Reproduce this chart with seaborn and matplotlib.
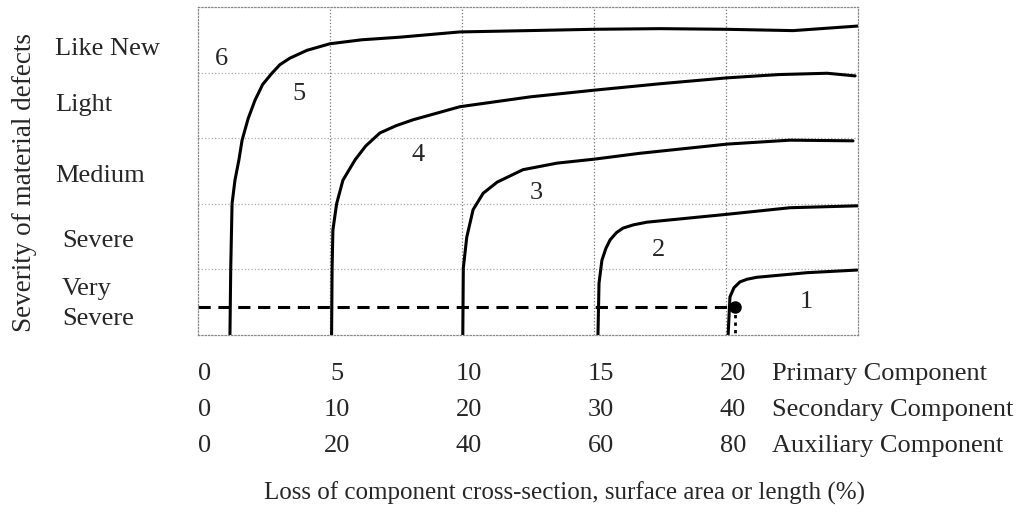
import matplotlib
matplotlib.use("Agg")
import numpy as np
import pandas as pd
import seaborn as sns
import matplotlib.pyplot as plt
from matplotlib.transforms import blended_transform_factory, ScaledTranslation

# ---------------- data ----------------
severity_levels = ["Very\nSevere", "Severe", "Medium", "Light", "Like New"]
primary_ticks = [0, 5, 10, 15, 20]
secondary_ticks = [0, 10, 20, 30, 40]
auxiliary_ticks = [0, 20, 40, 60, 80]
component_names = ["Primary Component", "Secondary Component", "Auxiliary Component"]

# boundary curves (x = loss for primary component, y = severity scale 0..5)
curve_65_x = [1.21, 1.24, 1.29, 1.40, 1.55, 1.67, 1.90, 2.16, 2.45, 2.80, 3.10, 3.48, 4.13, 5.00, 6.2, 7.65, 9.92, 12.5, 14.96, 17.5, 20.04, 22.54, 25.0]
curve_65_y = [0.00, 1.02, 2.00, 2.36, 2.67, 2.97, 3.30, 3.58, 3.82, 3.99, 4.12, 4.22, 4.34, 4.44, 4.50, 4.54, 4.62, 4.64, 4.66, 4.67, 4.66, 4.64, 4.71]

curve_54_x = [5.06, 5.08, 5.11, 5.25, 5.49, 5.95, 6.35, 6.89, 7.50, 8.14, 9.92, 12.58, 14.96, 17.5, 20.04, 22.0, 23.83, 24.89]
curve_54_y = [0.00, 1.02, 1.60, 2.00, 2.36, 2.67, 2.88, 3.08, 3.19, 3.28, 3.48, 3.63, 3.73, 3.83, 3.92, 3.97, 3.99, 3.95]

curve_43_x = [10.03, 10.05, 10.18, 10.42, 10.80, 11.33, 12.31, 13.60, 15.00, 16.74, 20.04, 22.42, 24.81]
curve_43_y = [0.00, 1.02, 1.49, 1.91, 2.16, 2.33, 2.52, 2.62, 2.68, 2.77, 2.91, 2.97, 2.96]

curve_32_x = [15.15, 15.19, 15.30, 15.45, 15.61, 15.85, 16.10, 16.50, 17.01, 20.04, 22.42, 25.04]
curve_32_y = [0.00, 0.79, 1.14, 1.32, 1.45, 1.56, 1.63, 1.68, 1.72, 1.84, 1.94, 1.97]

curve_21_x = [20.08, 20.15, 20.30, 20.53, 20.80, 21.17, 23.07, 24.96]
curve_21_y = [0.00, 0.58, 0.72, 0.81, 0.85, 0.88, 0.95, 0.99]

zone_labels = ["6", "5", "4", "3", "2", "1"]
zone_x = [0.87, 3.83, 8.33, 12.80, 17.46, 23.03]
zone_y = [4.21, 3.67, 2.74, 2.16, 1.30, 0.50]

threshold_x = 20.34
threshold_y = 0.43

# ---------------- layout ----------------
severity_label_y = [0.47, 1.43, 2.42, 3.51, 4.36]
row_y_fig = [1 - 374 / 513, 1 - 410 / 513, 1 - 446 / 513]

curves = {
    "6-5": (curve_65_x, curve_65_y),
    "5-4": (curve_54_x, curve_54_y),
    "4-3": (curve_43_x, curve_43_y),
    "3-2": (curve_32_x, curve_32_y),
    "2-1": (curve_21_x, curve_21_y),
}
df = pd.concat(
    [pd.DataFrame({"curve": k, "loss": v[0], "severity": v[1]}) for k, v in curves.items()],
    ignore_index=True,
)

sns.set_style("white")
plt.rcParams["font.family"] = ["Liberation Serif", "DejaVu Serif"]
FS = 19

fig = plt.figure(figsize=(10.2, 5.13), dpi=100)
ax = fig.add_axes([198 / 1020, 1 - 335 / 513, 660 / 1020, 328 / 513])

# grid
for xv in np.arange(5, 25, 5):
    ax.axvline(xv, color="#777777", lw=0.9, ls=":", zorder=0)
for yv in np.arange(1, 5, 1):
    ax.axhline(yv, color="#aaaaaa", lw=0.9, ls=":", zorder=0)
for s in ax.spines.values():
    s.set_linestyle(":")
    s.set_color("#888888")
    s.set_linewidth(0.9)

sns.lineplot(data=df, x="loss", y="severity", units="curve", estimator=None,
             sort=False, color="black", lw=2.2, ax=ax, legend=False)

# threshold dashed line and marker
ax.plot([0, threshold_x], [threshold_y, threshold_y], color="black", lw=2.2,
        dashes=(4, 2.5))
ax.plot([threshold_x, threshold_x], [threshold_y, 0], color="black", lw=2.0,
        ls=(0, (1.2, 1.5)))
ax.plot([threshold_x], [threshold_y], "o", color="black", ms=8)

ax.set_xlim(0, 25)
ax.set_ylim(0, 5)
ax.set_xticks(np.arange(0, 26, 5))
ax.set_yticks(np.arange(0, 6, 1))
ax.tick_params(length=0, labelbottom=False, labelleft=False)
ax.set_xlabel("")
ax.set_ylabel("")

for lab, x, y in zip(zone_labels, zone_x, zone_y):
    ax.text(x, y, lab, fontsize=FS, ha="center", va="center")

# severity labels
tr_y = blended_transform_factory(fig.transFigure, ax.transData)
for lab, y in zip(severity_levels, severity_label_y):
    xoff = 55 / 1020 if lab in ("Like New", "Light", "Medium") else 62 / 1020
    ax.text(xoff, y, lab, fontsize=FS, ha="left", va="center", transform=tr_y,
            linespacing=1.45)

# bottom rows of tick labels
tr_x = blended_transform_factory(ax.transData, fig.transFigure) + \
    ScaledTranslation(7 / 100, 0, fig.dpi_scale_trans)
for vals, name, yf in zip([primary_ticks, secondary_ticks, auxiliary_ticks],
                          component_names, row_y_fig):
    for p, v in zip(primary_ticks, vals):
        ax.text(p, yf, str(v), fontsize=FS, ha="center", va="center",
                transform=tr_x, clip_on=False)
    fig.text(772 / 1020, yf, name, fontsize=FS, ha="left", va="center")

fig.text(25 / 1020, 1 - 182 / 513, "Severity of material defects", fontsize=19.5,
         rotation=90, ha="center", va="center")
fig.text(565 / 1020, 1 - 493 / 513,
         "Loss of component cross-section, surface area or length (%)",
         fontsize=18, ha="center", va="center")

fig.savefig("out.png", dpi=100)
